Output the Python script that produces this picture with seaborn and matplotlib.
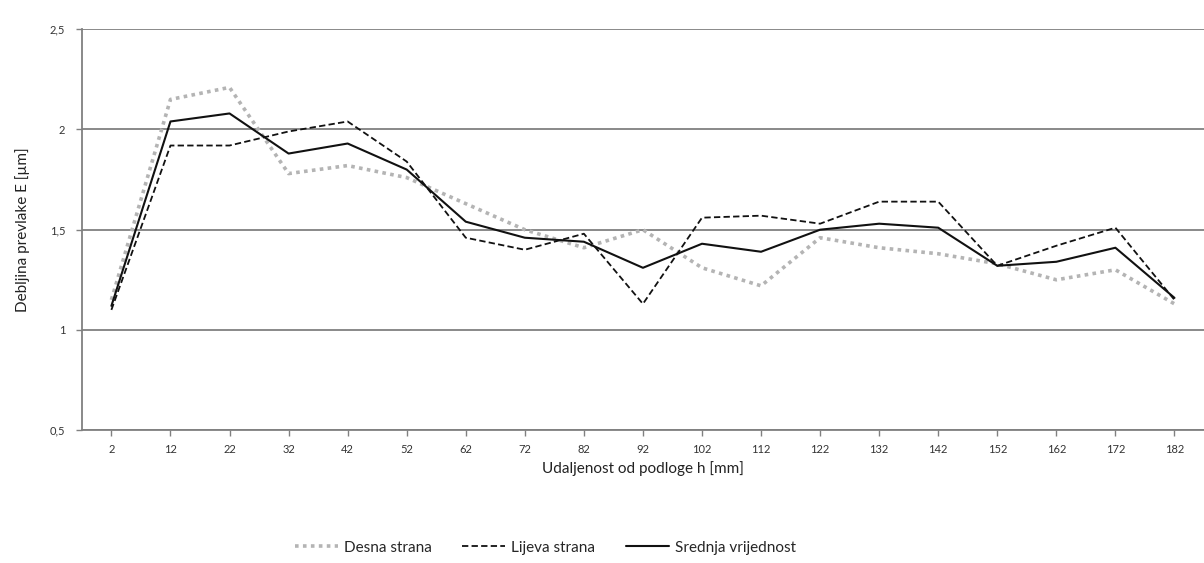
import matplotlib
matplotlib.use('Agg')
import matplotlib.pyplot as plt
import pandas as pd
import seaborn as sns

# Podaci očitani s grafa
udaljenost = [2, 12, 22, 32, 42, 52, 62, 72, 82, 92, 102, 112, 122, 132, 142, 152, 162, 172, 182]
desna = [1.15, 2.15, 2.21, 1.78, 1.82, 1.76, 1.63, 1.50, 1.41, 1.50, 1.31, 1.22, 1.46, 1.41, 1.38, 1.33, 1.25, 1.30, 1.13]
lijeva = [1.10, 1.92, 1.92, 1.99, 2.04, 1.84, 1.46, 1.40, 1.48, 1.13, 1.56, 1.57, 1.53, 1.64, 1.64, 1.32, 1.42, 1.51, 1.15]
srednja = [1.12, 2.04, 2.08, 1.88, 1.93, 1.80, 1.54, 1.46, 1.44, 1.31, 1.43, 1.39, 1.50, 1.53, 1.51, 1.32, 1.34, 1.41, 1.16]
serije = ['Desna strana', 'Lijeva strana', 'Srednja vrijednost']
y_ticks = [0.5, 1, 1.5, 2, 2.5]
y_labels = ['0,5', '1', '1,5', '2', '2,5']

df = pd.DataFrame({'h': udaljenost, serije[0]: desna, serije[1]: lijeva, serije[2]: srednja})
df = df.melt(id_vars='h', var_name='serija', value_name='E')

sns.set_style('white')
plt.rcParams['font.family'] = ['Lato', 'DejaVu Sans']

fig = plt.figure(figsize=(12.04, 5.63), dpi=100)
ax = fig.add_axes([0.068, 0.236, 0.932, 0.712])

boje = {serije[0]: '#b4b4b4', serije[1]: '#111111', serije[2]: '#111111'}
crte = {serije[0]: (1, 1.2), serije[1]: (3.5, 1.8), serije[2]: ''}
sns.lineplot(data=df, x='h', y='E', hue='serija', style='serija',
             palette=boje, dashes=crte, hue_order=serije, style_order=serije,
             ax=ax, legend=True)
for line, lw in zip(ax.lines, [2.6, 1.3, 1.5]):
    line.set_linewidth(lw)

ax.set_xlim(-3, 187)
ax.set_ylim(0.5, 2.5)
ax.set_xticks(udaljenost)
ax.set_xticklabels([str(v) for v in udaljenost], fontsize=8, color='#333333')
ax.set_yticks(y_ticks)
ax.set_yticklabels(y_labels, fontsize=8, color='#333333')
ax.yaxis.grid(True, color='#808080', linewidth=1.3)
ax.set_axisbelow(True)
for s in ['top', 'right']:
    ax.spines[s].set_visible(False)
for s in ['left', 'bottom']:
    ax.spines[s].set_color('#808080')
    ax.spines[s].set_linewidth(1.3)
ax.tick_params(axis='both', length=4, color='#808080', width=1, direction='out', pad=6)
ax.tick_params(axis='x', bottom=True)
ax.tick_params(axis='y', left=True, pad=8)

ax.set_xlabel('Udaljenost od podloge h [mm]', fontsize=11, color='#222222', labelpad=4)
ax.set_ylabel('Debljina prevlake E [µm]', fontsize=11, color='#222222', labelpad=14)

handles, labels = ax.get_legend_handles_labels()
ax.legend_.remove()
for h, lw in zip(handles, [2.6, 1.3, 1.5]):
    h.set_linewidth(lw)
fig.legend(handles, labels, loc='center', bbox_to_anchor=(0.453, 0.027), ncol=3,
           frameon=False, fontsize=11, handlelength=2.8, columnspacing=2.0,
           handletextpad=0.4)

fig.savefig('out.png', dpi=100)
